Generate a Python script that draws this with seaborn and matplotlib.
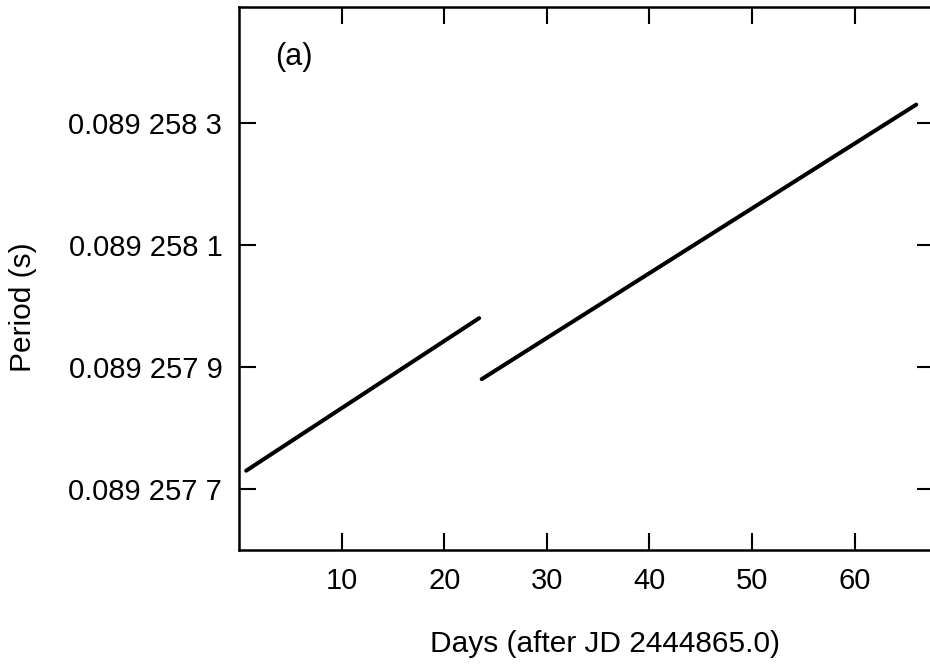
import pandas as pd
import seaborn as sns
import matplotlib
matplotlib.use("Agg")
import matplotlib.pyplot as plt

# values: two straight segments of the period curve
seg1_days = [0.7, 23.4]
seg1_period = [0.08925773, 0.08925798]
seg2_days = [23.65, 66.0]
seg2_period = [0.08925788, 0.08925833]

xticks = [10, 20, 30, 40, 50, 60]
yticks = [0.0892577, 0.0892579, 0.0892581, 0.0892583]
ytick_labels = ['0.089 257 7', '0.089 257 9', '0.089 258 1', '0.089 258 3']

df = pd.DataFrame({
    'Days': seg1_days + seg2_days,
    'Period': seg1_period + seg2_period,
    'seg': ['a'] * len(seg1_days) + ['b'] * len(seg2_days),
})

sns.set_style('ticks')
plt.rcParams['font.family'] = ['Liberation Sans', 'DejaVu Sans']
plt.rcParams['text.color'] = 'black'
plt.rcParams['axes.labelcolor'] = 'black'

fig = plt.figure(figsize=(9.3, 6.64), dpi=100)
ax = fig.add_axes([0.257, 0.1717, 0.747, 0.8178])

sns.lineplot(data=df, x='Days', y='Period', hue='seg', palette=['black', 'black'],
             legend=False, linewidth=2.9, ax=ax, solid_capstyle='round')

ax.set_xlim(0, 67.7)
ax.set_ylim(0.0892576, 0.08925849)
ax.set_xticks(xticks)
ax.set_xticklabels([str(t) for t in xticks])
ax.set_yticks(yticks)
ax.set_yticklabels(ytick_labels)

ax.tick_params(direction='in', top=True, right=True, length=12, width=1.5,
               labelsize=21, colors='black')
ax.tick_params(axis='x', pad=12)
ax.tick_params(axis='y', pad=12)
for s in ax.spines.values():
    s.set_linewidth(1.8)
    s.set_color('black')

ax.set_xlabel('Days (after JD 2444865.0)', fontsize=21.5)
ax.set_ylabel('Period (s)', fontsize=21.5)
ax.xaxis.set_label_coords(0.527, -0.148)
ax.yaxis.set_label_coords(-0.291, 0.4475)

ax.text(0.052, 0.908, '(a)', transform=ax.transAxes, fontsize=22, va='center')

fig.savefig('out.png', dpi=100)
